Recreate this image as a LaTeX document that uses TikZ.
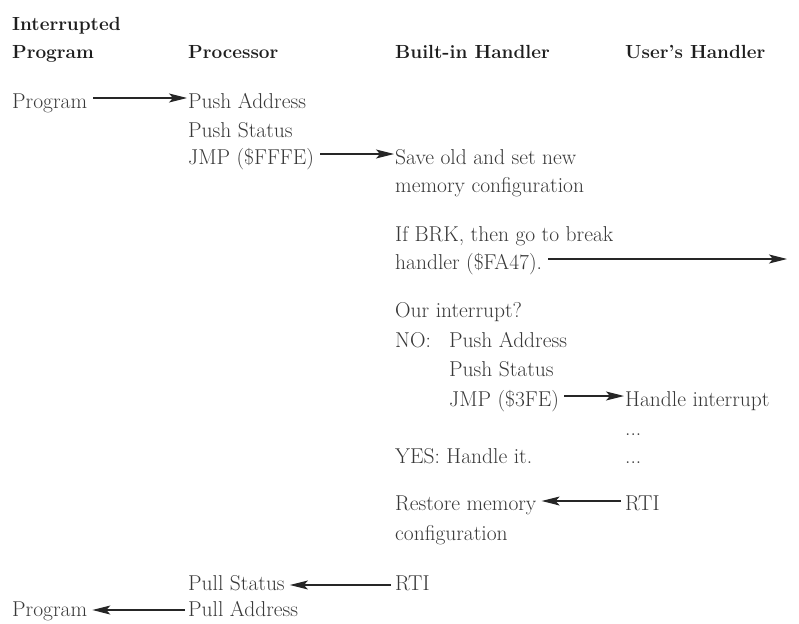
\documentclass[tikz,border=0pt]{standalone}
\usepackage{fontspec}
\usetikzlibrary{arrows.meta}
\definecolor{txt}{HTML}{383838}
\definecolor{hd}{HTML}{1E1E1E}
\definecolor{ln}{HTML}{262626}
\begin{document}
\begin{tikzpicture}[x=1pt,y=-1pt,
  body/.style={anchor=base west, inner sep=0pt, font=\fontsize{21.5}{28}\selectfont, text=txt},
  head/.style={anchor=base west, inner sep=0pt, font=\fontsize{19}{26}\selectfont\bfseries, text=hd},
  arr/.style={draw=ln, line width=1.2pt, -{Stealth[length=18pt,width=9pt,inset=4pt]}}]
\useasboundingbox (0,0) rectangle (799,623);
% headers
\node[head] (h1a) at (12,31) {Interrupted};
\node[head] (h1b) at (12,59) {Program};
\node[head] (h2) at (188,59) {Processor};
\node[head] (h3) at (395,59) {Built-in Handler};
\node[head] (h4) at (625,59) {User’s Handler};
% body
\node[body] (prog1) at (12,108) {Program};
\node[body] (pushA1) at (188,108) {Push Address};
\node[body] (pushS1) at (188,137) {Push Status};
\node[body] (jmp1) at (188,164) {JMP (\$FFFE)};
\node[body] (save) at (395,164) {Save old and set new};
\node[body] (memcfg) at (395,192) {memory configuration};
\node[body] (ifbrk) at (395,241) {If BRK, then go to break};
\node[body] (handler) at (395,269) {handler (\$FA47).};
\coordinate (brkend) at (787,259);
\node[body] (our) at (395,317) {Our interrupt?};
\node[body] (no) at (395,347) {NO:};
\node[body] (pushA2) at (449,347) {Push Address};
\node[body] (pushS2) at (449,376) {Push Status};
\node[body] (jmp2) at (449,406) {JMP (\$3FE)};
\node[body] (handleint) at (625,406) {Handle interrupt};
\node[body] (dots1) at (625,435) {...};
\node[body] (yes) at (395,463) {YES: Handle it.};
\node[body] (dots2) at (625,463) {...};
\node[body] (restore) at (395,510) {Restore memory};
\node[body] (rti1) at (625,510) {RTI};
\node[body] (config) at (395,540) {configuration};
\node[body] (rti2) at (395,590) {RTI};
\node[body] (pullS) at (188,590) {Pull Status};
\node[body] (prog2) at (12,616) {Program};
\node[body] (pullA) at (188,616) {Pull Address};
% arrows
\draw[arr] ([xshift=6pt,yshift=10pt]prog1.base east) -- ([xshift=-1pt,yshift=10pt]pushA1.base west);
\draw[arr] ([xshift=6pt,yshift=10pt]jmp1.base east) -- ([xshift=-1pt,yshift=10pt]save.base west);
\draw[arr] ([xshift=6pt,yshift=10pt]handler.base east) -- (brkend);
\draw[arr] ([xshift=5pt,yshift=10pt]jmp2.base east) -- ([xshift=-1pt,yshift=10pt]handleint.base west);
\draw[arr] ([xshift=-4pt,yshift=9pt]rti1.base west) -- ([xshift=5pt,yshift=9pt]restore.base east);
\draw[arr] ([xshift=-4pt,yshift=5pt]rti2.base west) -- ([xshift=5pt,yshift=5pt]pullS.base east);
\draw[arr] ([xshift=-3pt,yshift=6pt]pullA.base west) -- ([xshift=5pt,yshift=6pt]prog2.base east);
\end{tikzpicture}
\end{document}
